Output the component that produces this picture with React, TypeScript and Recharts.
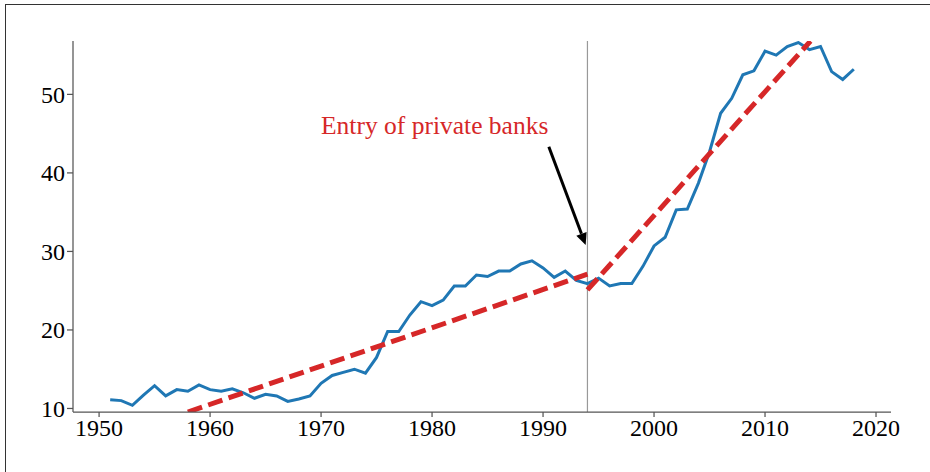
import { LineChart, Line, XAxis, YAxis, ReferenceLine, ReferenceDot } from "recharts"

const years = [
  1951, 1952, 1953, 1954, 1955, 1956, 1957, 1958, 1959, 1960,
  1961, 1962, 1963, 1964, 1965, 1966, 1967, 1968, 1969, 1970,
  1971, 1972, 1973, 1974, 1975, 1976, 1977, 1978, 1979, 1980,
  1981, 1982, 1983, 1984, 1985, 1986, 1987, 1988, 1989, 1990,
  1991, 1992, 1993, 1994, 1995, 1996, 1997, 1998, 1999, 2000,
  2001, 2002, 2003, 2004, 2005, 2006, 2007, 2008, 2009, 2010,
  2011, 2012, 2013, 2014, 2015, 2016, 2017, 2018,
]

const share = [
  11.1, 11.0, 10.4, 11.7, 12.9, 11.6, 12.4, 12.2, 13.0, 12.4,
  12.2, 12.5, 12.0, 11.3, 11.8, 11.6, 10.9, 11.2, 11.6, 13.2,
  14.2, 14.6, 15.0, 14.5, 16.5, 19.8, 19.8, 21.9, 23.6, 23.1,
  23.8, 25.6, 25.6, 27.0, 26.8, 27.5, 27.5, 28.4, 28.8, 27.9,
  26.7, 27.5, 26.3, 25.9, 26.6, 25.6, 25.9, 25.9, 28.1, 30.7,
  31.8, 35.3, 35.4, 38.7, 42.7, 47.6, 49.5, 52.5, 53.0, 55.5,
  55.0, 56.1, 56.6, 55.7, 56.1, 52.9, 51.9, 53.2,
]

// fitted trend before / after 1994
const preTrendYears = [1958, 1994]
const preTrendValues = [9.55, 27.1]
const postTrendYears = [1994, 2014.1]
const postTrendValues = [25.1, 56.8]

const xTicks = [1950, 1960, 1970, 1980, 1990, 2000, 2010, 2020]
const yTicks = [10, 20, 30, 40, 50]

const breakYear = 1994
const annotationText = "Entry of private banks"

const seriesData = years.map((year, i) => ({ year, value: share[i] }))
const preTrend = preTrendYears.map((year, i) => ({ year, value: preTrendValues[i] }))
const postTrend = postTrendYears.map((year, i) => ({ year, value: postTrendValues[i] }))

const font = "'Liberation Serif', 'Times New Roman', serif"
const axisColor = "#555"

function Arrow(props: any) {
  const { x1, y1, x2, y2 } = props
  const ang = Math.atan2(y2 - y1, x2 - x1)
  const len = 12
  const w = 5.5
  const bx = x2 - len * Math.cos(ang)
  const by = y2 - len * Math.sin(ang)
  const px = -Math.sin(ang) * w
  const py = Math.cos(ang) * w
  return (
    <g>
      <line x1={x1} y1={y1} x2={bx} y2={by} stroke="#000" strokeWidth={3} />
      <polygon points={`${x2},${y2} ${bx + px},${by + py} ${bx - px},${by - py}`} fill="#000" />
    </g>
  )
}

export default function App() {
  return (
    <div style={{ position: "absolute", left: 0, top: 0, width: 930, height: 472, background: "#fff" }}>
      <div
        style={{
          position: "absolute",
          left: 5,
          top: 4,
          right: 0,
          bottom: 0,
          borderTop: "1.5px solid #333",
          borderLeft: "1.5px solid #333",
        }}
      />
      <LineChart
        width={930}
        height={472}
        margin={{ top: 41, right: 39, bottom: 0, left: 0 }}
        style={{ position: "absolute", left: 0, top: 0 }}
      >
        <XAxis
          dataKey="year"
          type="number"
          domain={[1947.65, 2021.35]}
          allowDataOverflow
          ticks={xTicks}
          height={60}
          tickSize={5}
          tickMargin={2}
          stroke={axisColor}
          strokeWidth={1.25}
          tick={{ fill: "#000", fontSize: 24, fontFamily: font }}
        />
        <YAxis
          type="number"
          domain={[9.55, 56.8]}
          allowDataOverflow
          ticks={yTicks}
          width={73}
          tickSize={6}
          tickMargin={2}
          stroke={axisColor}
          strokeWidth={1.25}
          tick={{ fill: "#000", fontSize: 24, fontFamily: font }}
        />
        <ReferenceLine x={breakYear} stroke="#999" strokeWidth={1.2} />
        <Line
          data={seriesData}
          dataKey="value"
          type="linear"
          stroke="#1f77b4"
          strokeWidth={3}
          dot={false}
          isAnimationActive={false}
        />
        <Line
          data={preTrend}
          dataKey="value"
          type="linear"
          stroke="#d62728"
          strokeWidth={5}
          strokeDasharray="15 6.5"
          dot={false}
          isAnimationActive={false}
        />
        <Line
          data={postTrend}
          dataKey="value"
          type="linear"
          stroke="#d62728"
          strokeWidth={5}
          strokeDasharray="15 6.5"
          dot={false}
          isAnimationActive={false}
        />
        <ReferenceLine
          segment={[
            { x: 1990.52, y: 43.33 },
            { x: 1993.84, y: 30.81 },
          ]}
          shape={Arrow}
        />
        <ReferenceDot
          x={1980.24}
          y={44.95}
          r={0}
          shape={(p: any) => (
            <text x={p.cx} y={p.cy} textAnchor="middle" fill="#d62728" fontSize={25.5} fontFamily={font}>
              {annotationText}
            </text>
          )}
        />
      </LineChart>
    </div>
  )
}
